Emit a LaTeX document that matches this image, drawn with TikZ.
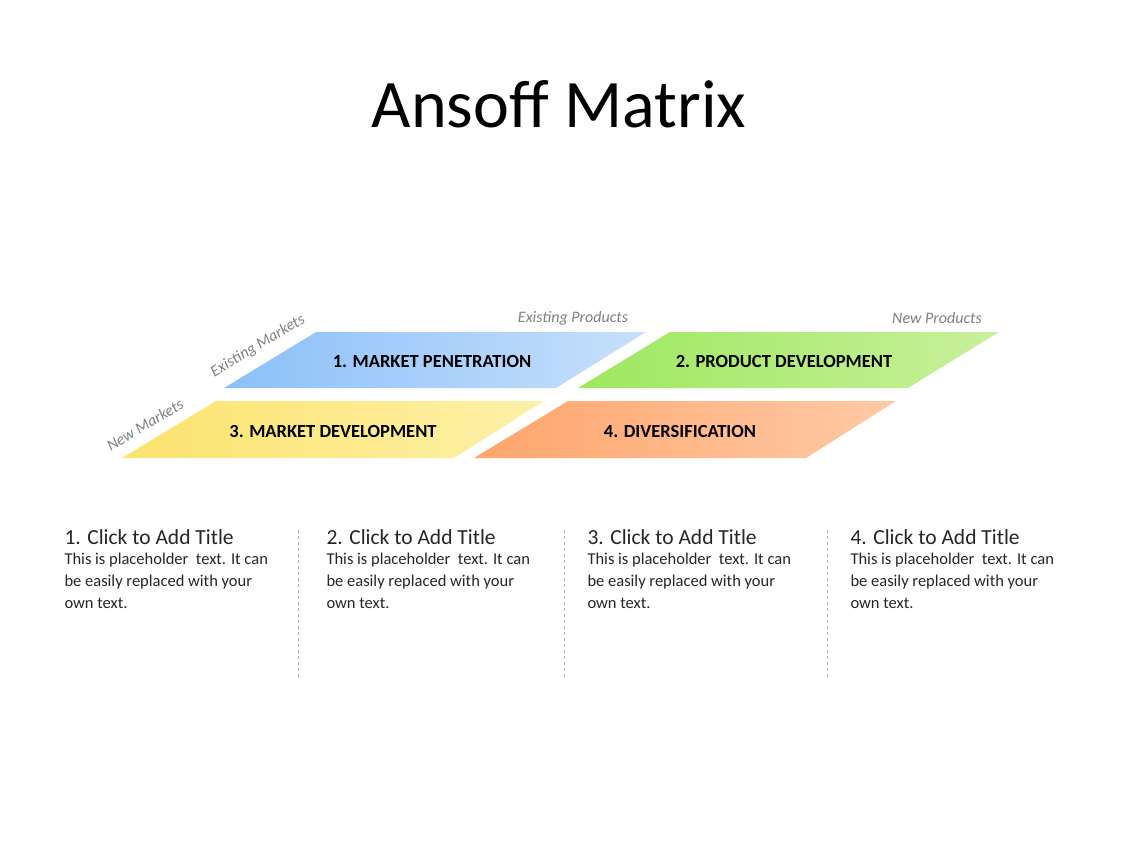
\documentclass[tikz,border=0pt]{standalone}
\usepackage{fontspec}
\setmainfont{Carlito}
\begin{document}
\begin{tikzpicture}[x=1pt,y=-1pt,
  lbl/.style={font=\bfseries\fontsize{18.5}{20}\selectfont,text=black},
  axis/.style={font=\itshape\fontsize{16}{18}\selectfont,text=gray,inner sep=1pt},
  ttl/.style={anchor=west,font=\fontsize{21.5}{24}\selectfont,text=black!85},
  body/.style={anchor=north west,align=left,font=\fontsize{16.5}{22}\selectfont,text=black!85},
  sep/.style={draw=black!30,dashed}]
\useasboundingbox (0,0) rectangle (1128,846);
\definecolor{b1}{HTML}{8BC0F9}\definecolor{b2}{HTML}{C7E0FB}
\definecolor{g1}{HTML}{9DE85F}\definecolor{g2}{HTML}{C8F09B}
\definecolor{y1}{HTML}{FCE36E}\definecolor{y2}{HTML}{FDF1A8}
\definecolor{o1}{HTML}{FFA56C}\definecolor{o2}{HTML}{FFCAA6}
\node (title) at (559,104) {\fontsize{68}{74}\selectfont Ansoff Matrix};
\shade[left color=b1, right color=b2] (316,332) -- (646,332) -- (556,388) -- (224,388) -- cycle;
\shade[left color=g1, right color=g2] (670,332) -- (999,332) -- (908,388) -- (578,388) -- cycle;
\shade[left color=y1, right color=y2] (216,401) -- (544,401) -- (454,458) -- (122,458) -- cycle;
\shade[left color=o1, right color=o2] (568,401) -- (896,401) -- (806,458) -- (474,458) -- cycle;
\node[lbl] (b1) at (432,361) {1. MARKET PENETRATION};
\node[lbl] (b2) at (784,361) {2. PRODUCT DEVELOPMENT};
\node[lbl] (b3) at (333,431) {3. MARKET DEVELOPMENT};
\node[lbl] (b4) at (680,431) {4. DIVERSIFICATION};
\node[axis] (ep) at (573,318) {Existing Products};
\node[axis] (np) at (937,318) {New Products};
\node[axis,rotate=31] (em) at (258,346) {Existing Markets};
\node[axis,rotate=31] (nm) at (145,425) {New Markets};
\foreach \x/\n in {64/1,326/2,587/3,850/4}{
  \node[ttl] (t\n) at (\x-3,537) {\n. Click to Add Title};
  \node[body] (p\n) at (\x-3,550) {This is placeholder\ \ text. It can\\be easily replaced with your\\own text.};
}
\foreach \x/\n in {298/1,564/2,827/3}{
  \coordinate (s\n a) at (\x,530); \coordinate (s\n b) at (\x,678);
  \draw[sep] (s\n a) -- (s\n b);
}
\end{tikzpicture}
\end{document}
